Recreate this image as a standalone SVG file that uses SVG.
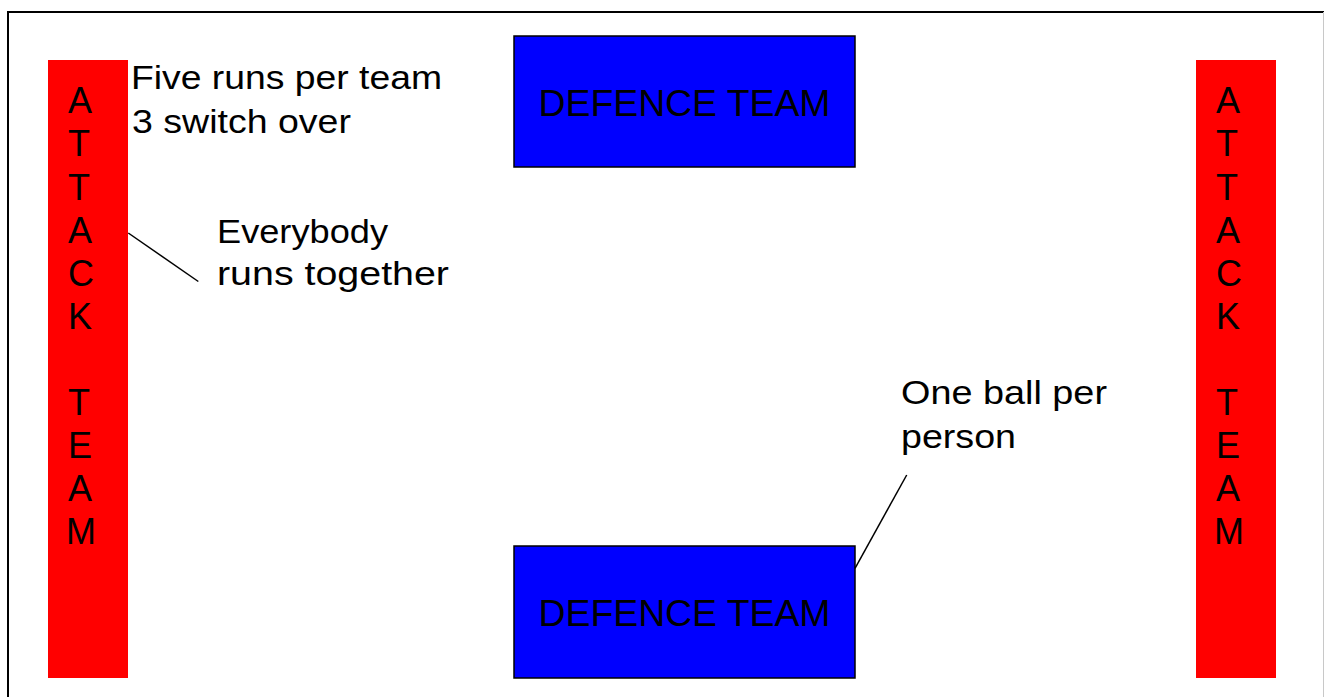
<svg xmlns="http://www.w3.org/2000/svg" width="1324" height="697" viewBox="0 0 1324 697">
  <style>
    .lbl { font-family: "Liberation Sans", Arial, sans-serif; fill: #000; }
    .note { font-size: 33px; }
    .vert { font-size: 36px; }
    .box { font-size: 37px; }
    .attack { fill: #ff0000; }
    .defence { fill: #0000ff; stroke: #000; stroke-width: 1.5; }
    .link { stroke: #000; stroke-width: 1.5; fill: none; }
  </style>

  <rect width="1324" height="697" fill="#fff"/>

  <!-- field boundary -->
  <g id="frame">
    <path d="M8,697 V12 H1324" fill="none" stroke="#000" stroke-width="2"/>
    <line x1="1323.5" y1="12" x2="1323.5" y2="697" stroke="#c8c8c8" stroke-width="1"/>
  </g>

  <!-- attackers, left side -->
  <g id="attack-left">
    <rect class="attack" x="48" y="60" width="80" height="618"/>
    <text class="lbl vert" x="68" y="113.3">
      <tspan x="68" y="113.3">A</tspan>
      <tspan x="68" y="156.4">T</tspan>
      <tspan x="68" y="199.5">T</tspan>
      <tspan x="68" y="242.6">A</tspan>
      <tspan x="68" y="285.7">C</tspan>
      <tspan x="68" y="328.8">K</tspan>
      <tspan x="68" y="415">T</tspan>
      <tspan x="68" y="458.1">E</tspan>
      <tspan x="68" y="501.2">A</tspan>
      <tspan x="66" y="544.3">M</tspan>
    </text>
  </g>

  <!-- attackers, right side -->
  <g id="attack-right">
    <rect class="attack" x="1196" y="60" width="80" height="618"/>
    <text class="lbl vert" x="1216" y="113.3">
      <tspan x="1216" y="113.3">A</tspan>
      <tspan x="1216" y="156.4">T</tspan>
      <tspan x="1216" y="199.5">T</tspan>
      <tspan x="1216" y="242.6">A</tspan>
      <tspan x="1216" y="285.7">C</tspan>
      <tspan x="1216" y="328.8">K</tspan>
      <tspan x="1216" y="415">T</tspan>
      <tspan x="1216" y="458.1">E</tspan>
      <tspan x="1216" y="501.2">A</tspan>
      <tspan x="1214" y="544.3">M</tspan>
    </text>
  </g>

  <!-- defenders -->
  <g id="defence-top">
    <rect class="defence" x="514" y="36" width="341" height="131"/>
    <text class="lbl box" x="684.5" y="115.7" text-anchor="middle" textLength="292" lengthAdjust="spacingAndGlyphs">DEFENCE TEAM</text>
  </g>

  <g id="defence-bottom">
    <rect class="defence" x="514" y="546" width="341" height="132"/>
    <text class="lbl box" x="684.5" y="625.5" text-anchor="middle" textLength="292" lengthAdjust="spacingAndGlyphs">DEFENCE TEAM</text>
  </g>

  <!-- notes -->
  <g id="note-runs">
    <text class="lbl note" x="131" y="89.3" textLength="311" lengthAdjust="spacingAndGlyphs">Five runs per team</text>
    <text class="lbl note" x="132" y="133" textLength="219" lengthAdjust="spacingAndGlyphs">3 switch over</text>
  </g>

  <g id="note-together">
    <text class="lbl note" x="217" y="243" textLength="171" lengthAdjust="spacingAndGlyphs">Everybody</text>
    <text class="lbl note" x="217" y="284.5" textLength="232" lengthAdjust="spacingAndGlyphs">runs together</text>
  </g>

  <g id="note-ball">
    <text class="lbl note" x="901" y="404.3" textLength="206" lengthAdjust="spacingAndGlyphs">One ball per</text>
    <text class="lbl note" x="901" y="448" textLength="115" lengthAdjust="spacingAndGlyphs">person</text>
  </g>

  <!-- callout lines -->
  <g id="connectors">
    <line class="link" x1="128.3" y1="233" x2="198.3" y2="281.5"/>
    <line class="link" x1="906.7" y1="475" x2="855" y2="568.3"/>
  </g>
</svg>
